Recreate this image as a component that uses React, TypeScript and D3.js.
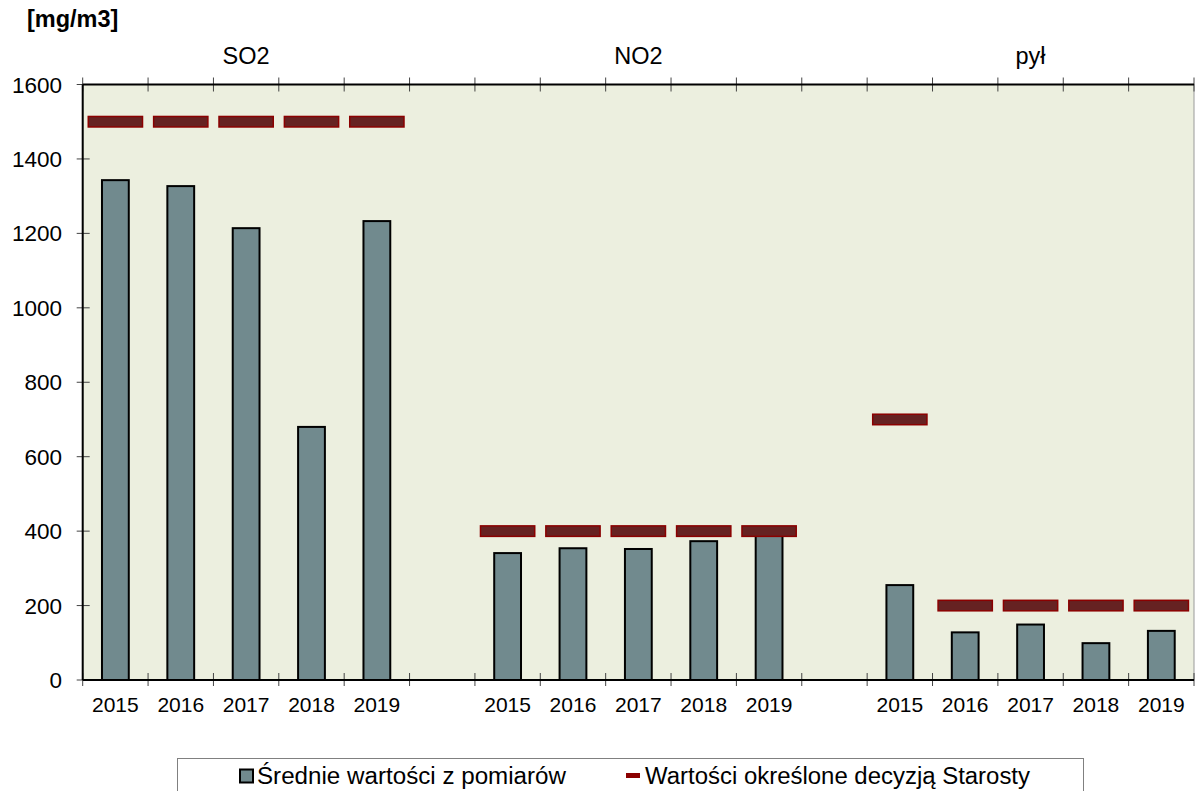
import React from "react";
import * as d3 from "d3";

const groups = ["SO2", "NO2", "pył"];
const years = ["2015", "2016", "2017", "2018", "2019"];
const so2Measured = [1343, 1327, 1214, 680, 1233];
const no2Measured = [341, 354, 352, 373, 395];
const pylMeasured = [255, 128, 149, 99, 132];
const so2Limit = [1500, 1500, 1500, 1500, 1500];
const no2Limit = [400, 400, 400, 400, 400];
const pylLimit = [700, 200, 200, 200, 200];
const yTicks = [0, 200, 400, 600, 800, 1000, 1200, 1400, 1600];
const legendLabels = ["Średnie wartości z pomiarów", "Wartości określone decyzją Starosty"];

const W = 1195;
const H = 791;
const left = 82.7;
const right = 1194;
const top = 84.5;
const bottom = 680;
const FONT = "'Liberation Sans', Arial, sans-serif";

export default function App() {
  const measuredAll = [so2Measured, no2Measured, pylMeasured];
  const limitAll = [so2Limit, no2Limit, pylLimit];
  const slots = d3.range(17);
  const x = d3.scaleBand<number>().domain(slots).range([left, right]).padding(0);
  const y = d3.scaleLinear().domain([0, 1600]).range([bottom, top]);
  const bw = x.bandwidth();
  const slotOf = (g: number, i: number) => g * 6 + i;

  const boundaries = d3.range(18).map((k) => left + k * bw);

  return (
    <svg width={W} height={H} style={{ position: "absolute", left: 0, top: 0, background: "#fff" }} fontFamily={FONT}>
      <rect x={left} y={top} width={right - left} height={bottom - top} fill="#ECEFDF" stroke="#9a9a9a" strokeWidth={1} />
      {/* y axis */}
      {yTicks.map((t) => (
        <g key={t}>
          <line x1={left - 6} x2={left + 7} y1={y(t)} y2={y(t)} stroke="#444" strokeWidth={1} />
          <text x={62} y={y(t)} dy="0.36em" textAnchor="end" fontSize={22.5} fill="#000">
            {t}
          </text>
        </g>
      ))}
      {/* category ticks top and bottom */}
      {boundaries.map((bx, k) => (
        <g key={k}>
          <line x1={bx} x2={bx} y1={top - 7} y2={top + 7} stroke="#444" strokeWidth={1} />
          <line x1={bx} x2={bx} y1={bottom - 7} y2={bottom + 6} stroke="#444" strokeWidth={1} />
        </g>
      ))}
      {/* bars */}
      {measuredAll.map((arr, g) =>
        arr.map((v, i) => {
          const cx = (x(slotOf(g, i)) as number) + bw / 2;
          const w = bw * 0.41;
          return (
            <rect
              key={`b${g}-${i}`}
              x={cx - w / 2}
              y={y(v)}
              width={w}
              height={bottom - y(v)}
              fill="#718A8E"
              stroke="#000"
              strokeWidth={2}
            />
          );
        })
      )}
      {/* limit markers */}
      {limitAll.map((arr, g) =>
        arr.map((v, i) => {
          const cx = (x(slotOf(g, i)) as number) + bw / 2;
          const w = bw * 0.83;
          const h = 10.5;
          return (
            <rect
              key={`l${g}-${i}`}
              x={cx - w / 2}
              y={y(v) - h / 2}
              width={w}
              height={h}
              fill="#662222"
              stroke="#8B0000"
              strokeWidth={1.5}
            />
          );
        })
      )}
      {/* axes lines */}
      <line x1={left} x2={right} y1={top} y2={top} stroke="#000" strokeWidth={2} />
      <line x1={left} x2={right} y1={bottom} y2={bottom} stroke="#000" strokeWidth={2} />
      <line x1={left} x2={left} y1={top} y2={bottom} stroke="#000" strokeWidth={2} />
      {/* year labels */}
      {groups.map((_, g) =>
        years.map((yr, i) => (
          <text
            key={`y${g}-${i}`}
            x={(x(slotOf(g, i)) as number) + bw / 2}
            y={712}
            textAnchor="middle"
            fontSize={21}
            fill="#000"
          >
            {yr}
          </text>
        ))
      )}
      {/* group labels */}
      {groups.map((name, g) => (
        <text key={name} x={(x(slotOf(g, 2)) as number) + bw / 2} y={64} textAnchor="middle" fontSize={23.5} fill="#000">
          {name}
        </text>
      ))}
      {/* unit */}
      <text x={27} y={27} fontSize={23.5} fontWeight="bold" fill="#000">
        [mg/m3]
      </text>
      {/* legend */}
      <rect x={177.5} y={758.5} width={906} height={50} fill="#fff" stroke="#808080" strokeWidth={1} />
      <rect x={240} y={769.5} width={13} height={13} fill="#718A8E" stroke="#000" strokeWidth={2} />
      <text x={257} y={784} fontSize={23} fill="#000" textLength={309} lengthAdjust="spacingAndGlyphs">
        {legendLabels[0]}
      </text>
      <rect x={626} y={773} width={14} height={5} fill="#8B0000" />
      <text x={645} y={784} fontSize={23} fill="#000" textLength={385} lengthAdjust="spacingAndGlyphs">
        {legendLabels[1]}
      </text>
    </svg>
  );
}
